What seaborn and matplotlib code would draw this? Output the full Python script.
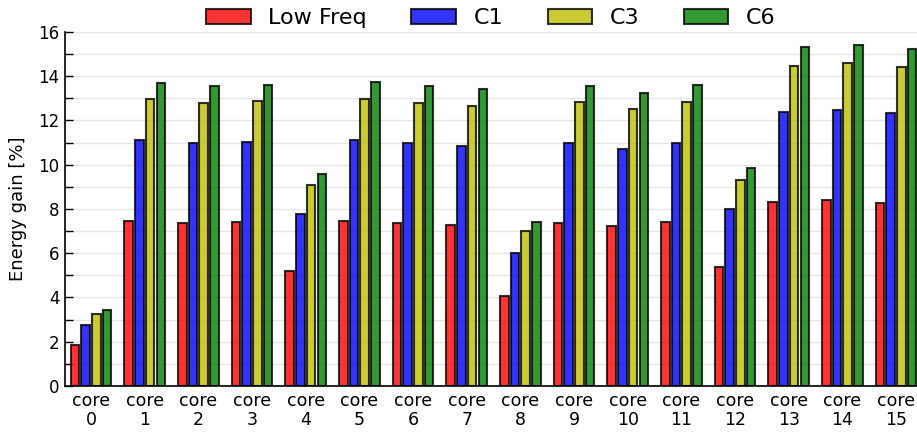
import matplotlib
matplotlib.use("Agg")
import matplotlib.pyplot as plt
import seaborn as sns
import pandas as pd
from matplotlib.ticker import MultipleLocator

cores = [f"core\n{i}" for i in range(16)]
series_names = ["Low Freq", "C1", "C3", "C6"]
low_freq = [1.85, 7.45, 7.38, 7.40, 5.20, 7.45, 7.37, 7.28, 4.05, 7.38, 7.22, 7.40, 5.37, 8.33, 8.40, 8.28]
c1 = [2.75, 11.10, 10.97, 11.03, 7.77, 11.10, 10.97, 10.83, 6.02, 10.98, 10.73, 11.00, 7.98, 12.40, 12.48, 12.35]
c3 = [3.25, 12.95, 12.80, 12.87, 9.07, 12.98, 12.80, 12.65, 7.00, 12.82, 12.52, 12.85, 9.30, 14.47, 14.58, 14.40]
c6 = [3.43, 13.70, 13.55, 13.62, 9.60, 13.72, 13.55, 13.40, 7.43, 13.57, 13.25, 13.60, 9.85, 15.32, 15.43, 15.25]

rows = []
for name, vals in zip(series_names, [low_freq, c1, c3, c6]):
    for core, v in zip(cores, vals):
        rows.append({"core": core, "series": name, "gain": v})
df = pd.DataFrame(rows)

sns.set_style("white")
plt.rcParams['font.family'] = ['DejaVu Sans']
plt.rcParams['text.color'] = 'black'
plt.rcParams['axes.labelcolor'] = 'black'
plt.rcParams['xtick.color'] = 'black'
plt.rcParams['ytick.color'] = 'black'

fig = plt.figure(figsize=(9.17, 4.32), dpi=100)
ax = fig.add_axes([0.0709, 0.1065, 1.0 - 0.0709, 0.926 - 0.1065])

palette = {"Low Freq": "red", "C1": "blue", "C3": "y", "C6": "g"}
sns.barplot(data=df, x="core", y="gain", hue="series", hue_order=series_names,
            palette=palette, width=0.8, gap=0.2, alpha=0.8,
            edgecolor=(0, 0, 0, 0.7), linewidth=1.5, ax=ax, saturation=1.0,
            errorbar=None)

ax.set_xlim(-0.485, 15.39)
ax.set_ylim(0, 16)
ax.yaxis.set_major_locator(MultipleLocator(2))
ax.yaxis.set_minor_locator(MultipleLocator(1))
ax.grid(True, axis="y", which="both", color="#e6e6e6", linewidth=1.0)
ax.set_axisbelow(True)
ax.tick_params(axis="y", which="both", direction="in", left=True, length=6, width=1,
               labelsize=12, pad=4, colors="black")
ax.tick_params(axis="x", bottom=False, length=0, labelsize=12.5, pad=4, colors="black")
for s in ["top", "right"]:
    ax.spines[s].set_visible(False)
for s in ["left", "bottom"]:
    ax.spines[s].set_visible(True)
    ax.spines[s].set_color("black")
    ax.spines[s].set_linewidth(1.2)
ax.set_xlabel("")
ax.set_ylabel("Energy gain [%]", fontsize=13, labelpad=8, color="black")
for lbl in ax.get_xticklabels():
    lbl.set_linespacing(1.1)

handles, labels = ax.get_legend_handles_labels()
leg = ax.legend(handles, labels, loc="lower center", bbox_to_anchor=(0.5, 0.985), ncol=4,
                frameon=False, fontsize=16, borderaxespad=0.0)
for t in leg.get_texts():
    t.set_color("black")

fig.savefig("out.png", dpi=100)
